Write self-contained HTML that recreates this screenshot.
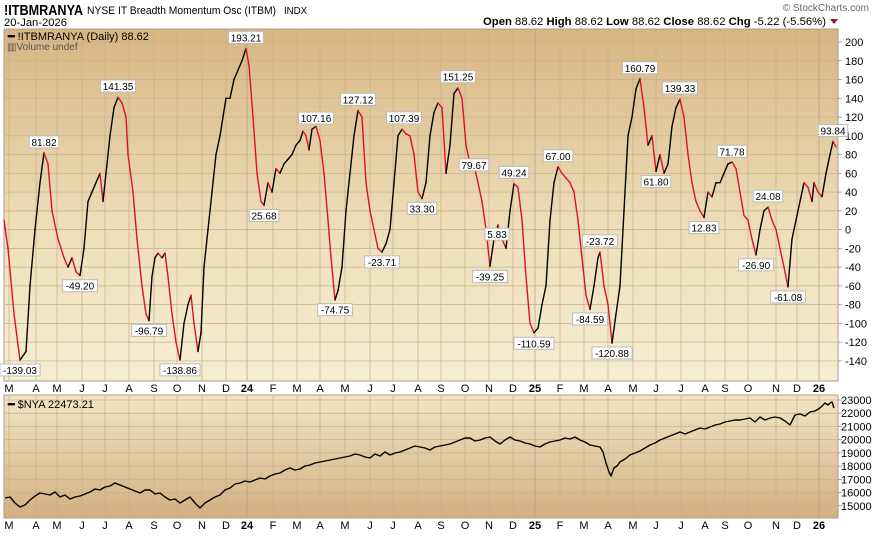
<!DOCTYPE html><html><head><meta charset="utf-8"><style>
body{margin:0;width:876px;height:538px;background:#fff;font-family:"Liberation Sans",sans-serif;overflow:hidden}
svg text{font-family:"Liberation Sans",sans-serif}
</style></head><body>
<svg id="s" width="876" height="538" xmlns="http://www.w3.org/2000/svg">
<defs>
<linearGradient id="g1" x1="0" y1="0" x2="0" y2="1"><stop offset="0" stop-color="#d7b682"/><stop offset="0.6" stop-color="#efe0bb"/><stop offset="1" stop-color="#f5eed3"/></linearGradient>
<linearGradient id="g2" x1="0" y1="0" x2="0" y2="1"><stop offset="0" stop-color="#f1e5c5"/><stop offset="1" stop-color="#d3b080"/></linearGradient>
</defs>
<text x="4" y="15" font-size="15" font-weight="bold" textLength="79" lengthAdjust="spacingAndGlyphs">!ITBMRANYA</text>
<text x="87" y="14" font-size="11" textLength="189" lengthAdjust="spacingAndGlyphs">NYSE IT Breadth Momentum Osc (ITBM)</text>
<text x="284" y="14" font-size="10" textLength="23" lengthAdjust="spacingAndGlyphs">INDX</text>
<text x="4" y="26" font-size="11" textLength="63" lengthAdjust="spacingAndGlyphs">20-Jan-2026</text>
<text x="869" y="11" font-size="10" fill="#666" text-anchor="end">© StockCharts.com</text>
<text x="483" y="25" font-size="11" textLength="343" lengthAdjust="spacingAndGlyphs"><tspan font-weight="bold">Open</tspan> 88.62  <tspan font-weight="bold">High</tspan> 88.62  <tspan font-weight="bold">Low</tspan> 88.62  <tspan font-weight="bold">Close</tspan> 88.62  <tspan font-weight="bold">Chg</tspan> -5.22 (-5.56%)</text>
<polygon points="830,19 838,19 834,24" fill="#8b1a2a"/>
<rect x="4" y="29" width="834" height="352" fill="url(#g1)" stroke="#b09a88"/>
<rect x="4" y="395" width="834" height="123" fill="url(#g2)" stroke="#b09a88"/>
<g id="grid" stroke="#c9ae8a" stroke-width="0.7"></g>
<g id="labs" font-size="11"></g>
<text x="8" y="40" font-size="11"><tspan font-weight="bold">━</tspan> !ITBMRANYA (Daily) 88.62</text>
<text x="7" y="50" font-size="10" fill="#555">▥Volume undef</text>
<text x="8" y="408" font-size="11"><tspan font-weight="bold">━</tspan> $NYA 22473.21</text>
<g id="lines" fill="none" stroke-width="1.4" stroke-linejoin="round"></g>
<g id="ann" font-size="10"></g>
</svg>
<script>
var S='http://www.w3.org/2000/svg';
function el(p,t,a,tx){var e=document.createElementNS(S,t);for(var k in a)e.setAttribute(k,a[k]);if(tx!==undefined)e.textContent=tx;document.getElementById(p).appendChild(e);return e;}
function yv(v){return 229.6-v*0.938;}
function yn(v){return 400+(23000-v)*0.01322;}
var mx=[[9,'M'],[36,'A'],[57,'M'],[82,'J'],[105,'J'],[129,'A'],[154,'S'],[177,'O'],[202,'N'],[226,'D'],[247,'24'],[273,'F'],[297,'M'],[320,'A'],[345,'M'],[370,'J'],[393,'J'],[418,'A'],[441,'S'],[465,'O'],[489,'N'],[513,'D'],[535,'25'],[560,'F'],[584,'M'],[608,'A'],[633,'M'],[656,'J'],[681,'J'],[705,'A'],[725,'S'],[748,'O'],[776,'N'],[797,'D'],[819,'26']];
mx.forEach(function(m){
 var x=m[0];var strong=m[1].length==2;
 el('grid','line',{x1:x,y1:30,x2:x,y2:380,stroke:strong?'#b09a88':'#c9ae8a'});
 el('grid','line',{x1:x,y1:396,x2:x,y2:517,stroke:strong?'#b09a88':'#c9ae8a'});
 [388,525].forEach(function(y){el('labs','text',{x:x,y:y+4,'text-anchor':'middle','font-weight':strong?'bold':'normal'},m[1]);});
});
for(var v=-140;v<=200;v+=20){var y=yv(v);el('grid','line',{x1:5,y1:y,x2:837,y2:y});el('grid','line',{x1:838,y1:y,x2:842,y2:y,stroke:'#888'});el('labs','text',{x:845,y:y+4},v);}
for(var v=15000;v<=23000;v+=1000){var y=yn(v);el('grid','line',{x1:5,y1:y,x2:837,y2:y});el('grid','line',{x1:838,y1:y,x2:842,y2:y,stroke:'#888'});el('labs','text',{x:841,y:y+4},v);}
var d=[4,10,8,-20,14,-90,20,-139,26,-130,30,-60,35,0,40,50,44,82,48,70,52,20,58,-10,64,-30,68,-40,72,-30,76,-45,80,-49,84,-20,88,30,92,40,96,50,100,60,103,30,106,60,110,100,114,130,118,141,122,135,126,120,128,80,133,40,137,-10,142,-60,146,-90,149,-97,152,-50,155,-30,158,-25,162,-30,165,-25,168,-50,172,-90,176,-120,180,-139,184,-100,188,-80,191,-70,194,-100,198,-130,201,-110,204,-40,208,0,212,40,216,80,220,100,226,140,230,140,234,160,238,170,242,180,246,193,249,175,253,120,257,60,261,30,264,26,268,50,272,40,276,65,280,60,284,70,288,75,292,80,296,90,300,95,303,105,306,100,309,85,312,107,316,110,320,95,324,60,328,10,331,-30,335,-75,338,-65,342,-40,346,20,350,60,354,100,358,127,362,120,366,50,370,20,374,0,378,-20,382,-24,386,-15,390,0,394,50,398,100,402,107,406,102,410,100,414,80,418,40,422,33,426,50,430,100,434,125,438,135,442,130,446,60,450,90,454,145,458,151,462,140,466,90,470,70,474,68,478,50,482,30,486,0,490,-39,494,-10,498,5,502,-10,506,-20,510,20,514,49,518,45,522,10,526,-50,530,-100,534,-110,538,-105,542,-80,546,-60,550,10,554,50,558,67,562,60,566,55,570,50,574,40,578,10,582,-30,586,-70,590,-85,594,-60,598,-30,600,-24,604,-60,608,-80,612,-121,616,-90,620,-60,624,20,628,100,632,120,636,150,640,161,644,130,648,90,652,100,656,62,660,80,664,60,668,70,672,110,676,130,680,139,684,120,688,80,692,50,696,30,700,20,704,13,708,40,712,35,716,50,720,50,724,60,728,70,732,72,736,65,740,40,744,15,748,10,752,-10,756,-27,760,0,764,20,768,24,772,10,776,0,780,-20,784,-40,788,-61,792,-10,796,10,800,30,804,50,808,45,812,30,814,50,818,40,822,35,826,60,830,80,833,94,836,88];
for(var i=0;i<d.length-2;i+=2){var c=d[i+3]<d[i+1]?'#e0102c':'#000';el('lines','line',{x1:d[i],y1:yv(d[i+1]),x2:d[i+2],y2:yv(d[i+3]),stroke:c,'stroke-linecap':'round'});}
var n=[5,498,10,497,15,503,20,507,25,505,30,500,35,496,40,493,45,494,50,495,55,492,60,497,65,495,70,499,75,497,80,496,85,494,90,492,95,489,100,490,105,487,110,486,115,483,120,485,125,487,130,489,135,491,140,493,145,490,150,490,155,494,160,493,165,497,170,500,175,499,180,503,185,500,190,497,195,503,200,508,205,503,210,500,215,497,220,495,225,490,230,488,235,484,240,483,245,481,250,482,255,480,260,478,265,479,270,476,275,474,280,473,285,470,290,468,295,470,300,469,305,466,310,465,315,463,320,462,325,461,330,460,335,459,340,458,345,457,350,456,355,454,360,455,365,457,370,458,375,454,380,456,385,452,390,455,395,453,400,452,405,450,410,448,415,446,420,447,425,448,430,450,435,447,440,446,445,445,450,444,455,442,460,440,465,438,470,438,475,441,480,440,485,438,490,437,495,441,500,444,505,440,510,437,515,440,520,441,525,443,530,444,535,446,540,447,545,444,550,442,555,441,560,440,565,438,570,439,575,437,580,440,585,442,590,445,595,446,600,447,603,452,606,463,609,472,611,476,614,468,617,466,620,462,625,459,630,455,635,453,640,451,645,448,650,445,655,443,660,440,665,438,670,436,675,434,680,432,685,434,690,432,695,430,700,428,705,429,710,427,715,425,720,424,725,422,730,421,735,420,740,420,745,419,750,418,755,422,760,417,765,420,770,418,775,417,780,418,785,421,790,425,795,415,800,414,805,416,810,412,815,411,820,408,825,403,828,405,830,403,832,402,834,408];
var p='';for(var i=0;i<n.length;i+=2)p+=n[i]+','+n[i+1]+' ';
el('lines','polyline',{points:p,stroke:'#000'});
var A=[[20,-139.03,'-139.03',0],[44,81.82,'81.82',1],[80,-49.2,'-49.20',0],[118,141.35,'141.35',1],[149,-96.79,'-96.79',0],[180,-138.86,'-138.86',0],[246,193.21,'193.21',1],[264,25.68,'25.68',0],[316,107.16,'107.16',1],[335,-74.75,'-74.75',0],[358,127.12,'127.12',1],[382,-23.71,'-23.71',0],[404,107.39,'107.39',1],[422,33.3,'33.30',0],[458,151.25,'151.25',1],[474,79.67,'79.67',0],[490,-39.25,'-39.25',0],[497,5.83,'5.83',0],[514,49.24,'49.24',1],[534,-110.59,'-110.59',0],[558,67,'67.00',1],[590,-84.59,'-84.59',0],[600,-23.72,'-23.72',1],[612,-120.88,'-120.88',0],[640,160.79,'160.79',1],[656,61.8,'61.80',0],[680,139.33,'139.33',1],[704,12.83,'12.83',0],[732,71.78,'71.78',1],[756,-26.9,'-26.90',0],[768,24.08,'24.08',1],[788,-61.08,'-61.08',0],[833,93.84,'93.84',1]];
A.forEach(function(a){var x=a[0],y=yv(a[1]),w=a[2].length*5.3+3,top=a[3];
 var by=top?y-17:y+4;
 el('ann','rect',{x:x-w/2,y:by,width:w,height:12,fill:'#fff',stroke:'#bbb'});
 el('ann','text',{x:x,y:by+10,'text-anchor':'middle'},a[2]);});
</script>
</body></html>
